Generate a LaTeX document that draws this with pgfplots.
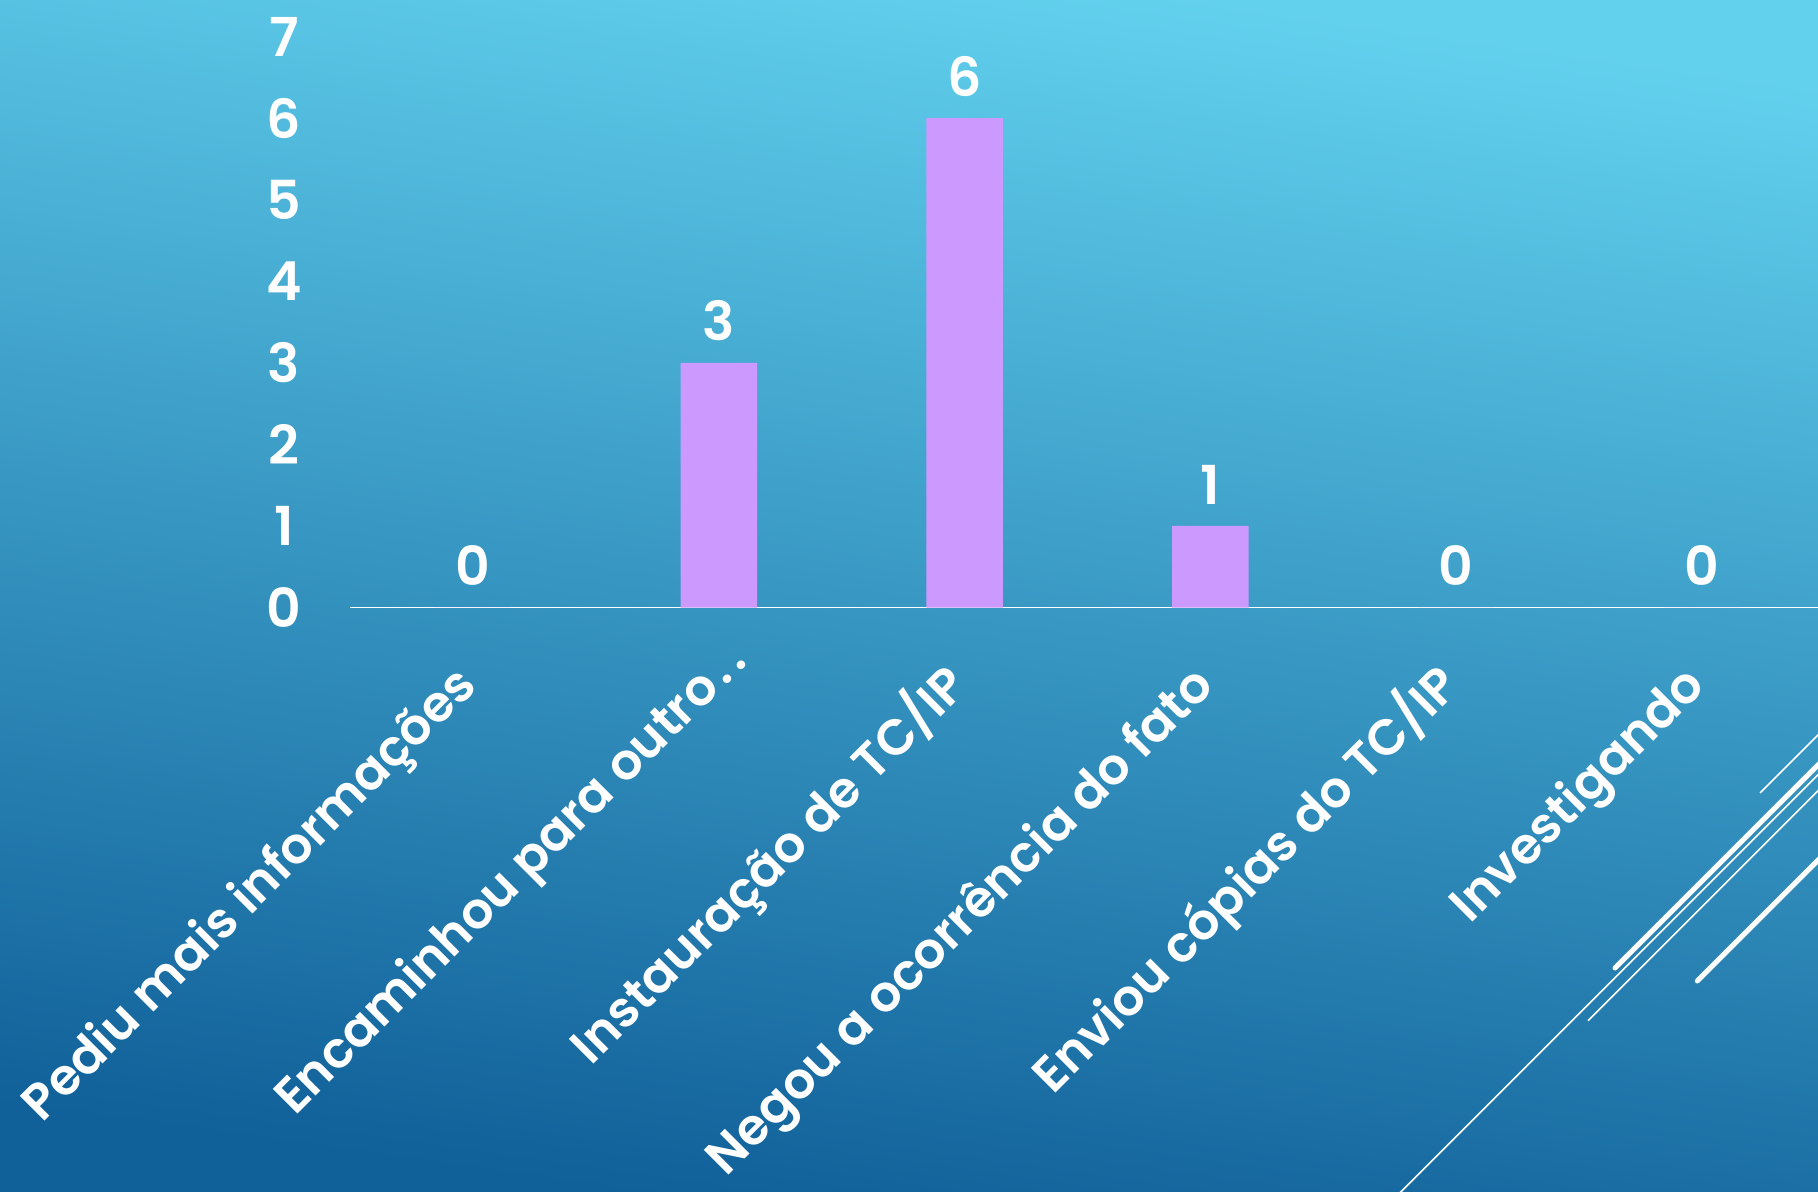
\documentclass[border=0pt]{standalone}
\usepackage{fontspec}
\setmainfont{Poppins}[BoldFont={* SemiBold}]
\usepackage{pgfplots}
\pgfplotsset{compat=1.18}
\definecolor{barcol}{RGB}{204,153,255}
\definecolor{bgtop}{RGB}{98,209,238}
\definecolor{bgbot}{RGB}{16,96,153}
\newcommand{\lblfont}{\fontsize{21.5}{21.5}\selectfont\bfseries}
\newcommand{\xlblfont}{\fontsize{20}{20}\selectfont\bfseries}
\begin{document}
\begin{tikzpicture}
\useasboundingbox (0,0) rectangle (727.2pt,476.4pt);
\begin{scope}
\clip (0,0) rectangle (727.2pt,476.4pt);
\shade[top color=bgtop, bottom color=bgbot, shading angle=-8] (0pt,0pt) rectangle (727.2pt,476.4pt);
% decorative lines
\draw[white, line width=0.6pt] (550pt,-10.7pt) -- (740pt,179.3pt);
\draw[white, line width=2pt, line cap=round] (646pt,89.2pt) -- (745pt,188.2pt);
\draw[white, line width=0.6pt] (635.2pt,68.1pt) -- (740pt,172.9pt);
\draw[white, line width=0.6pt] (704pt,159.2pt) -- (740pt,195.2pt);
\draw[white, line width=2pt, line cap=round] (678.9pt,84pt) -- (740pt,145.1pt);
\end{scope}
\begin{axis}[
  at={(140pt,233.4pt)}, anchor=south west,
  scale only axis, width=590pt, height=228.4pt,
  ybar, bar width=30.6pt,
  xmin=-0.5, xmax=5.5, ymin=0, ymax=7,
  axis x line*=bottom, axis y line*=left,
  x axis line style={white, line width=0.6pt, -},
  y axis line style={draw=none},
  major tick length=0pt,
  xtick={0,...,5}, ytick={0,...,7},
  xticklabels={Pediu mais informações, {Encaminhou para outro\kern2pt.\kern3pt.\hspace*{-14pt}}, Instauração de TC/IP, Negou a ocorrência do fato, Enviou cópias do TC/IP, Investigando},
  /pgf/number format/assume math mode=true,
  tick label style={white, font=\lblfont},
  xticklabel style={font=\xlblfont, xshift=2.3pt, yshift=-32pt, rotate=45, anchor=base east, inner sep=0pt},
  yticklabel style={anchor=center, xshift=-26.4pt},
  nodes near coords,
  every node near coord/.append style={white, font=\lblfont, anchor=south, inner sep=0pt, yshift=8.5pt},
  clip=false,
]
\addplot[fill=barcol, draw=none] coordinates {(0,0) (1,3) (2,6) (3,1) (4,0) (5,0)};
\end{axis}
\end{tikzpicture}
\end{document}
